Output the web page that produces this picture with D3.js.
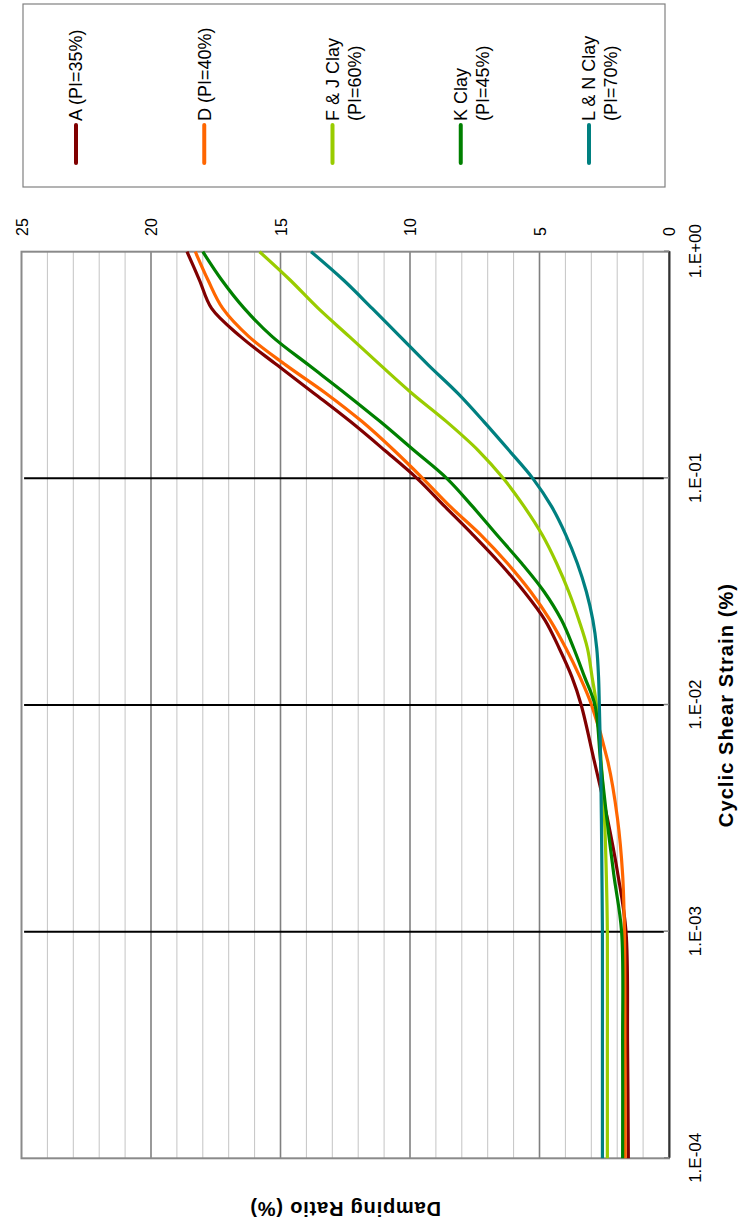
<!DOCTYPE html>
<html>
<head>
<meta charset="utf-8">
<script src="https://cdn.jsdelivr.net/npm/d3@7/dist/d3.min.js"></script>
<style>
  html, body { margin: 0; padding: 0; background: #ffffff; }
  svg { display: block; font-family: "Liberation Sans", Arial, sans-serif; }
</style>
</head>
<body>
<svg id="chart" width="739" height="1226"></svg>
<script>
// ---- data ----
const strain = [1e-4, 3.16e-4, 1e-3, 1.78e-3, 3.16e-3, 5.62e-3, 1e-2, 1.33e-2, 1.78e-2, 2.37e-2,
                3.16e-2, 4.22e-2, 5.62e-2, 7.5e-2, 0.1, 0.133, 0.178, 0.237, 0.316, 0.422, 0.562, 0.75, 1];
const dampA  = [1.57, 1.60, 1.66, 1.97, 2.38, 2.88, 3.39, 3.75, 4.24, 4.79, 5.59, 6.53, 7.56, 8.65, 9.73, 10.98, 12.30, 13.70, 15.13, 16.54, 17.66, 18.13, 18.61];
const dampD  = [1.69, 1.70, 1.72, 1.79, 1.99, 2.36, 2.99, 3.44, 3.98, 4.59, 5.34, 6.24, 7.26, 8.44, 9.51, 10.62, 11.85, 13.24, 14.79, 16.22, 17.23, 17.80, 18.29];
const dampFJ = [2.38, 2.38, 2.38, 2.42, 2.49, 2.62, 2.80, 2.97, 3.15, 3.48, 3.87, 4.34, 4.89, 5.59, 6.40, 7.37, 8.59, 9.92, 11.14, 12.34, 13.54, 14.63, 15.81];
const dampK  = [1.79, 1.79, 1.83, 2.13, 2.40, 2.64, 2.86, 3.26, 3.68, 4.15, 4.82, 5.69, 6.64, 7.58, 8.58, 9.85, 11.15, 12.50, 13.91, 15.32, 16.40, 17.27, 18.00];
const dampLN = [2.57, 2.57, 2.57, 2.59, 2.61, 2.64, 2.69, 2.72, 2.79, 2.94, 3.19, 3.54, 3.98, 4.53, 5.26, 6.18, 7.15, 8.15, 9.29, 10.38, 11.46, 12.57, 13.82];

const seriesNames  = [["A (PI=35%)"], ["D (PI=40%)"], ["F & J Clay", "(PI=60%)"], ["K Clay", "(PI=45%)"], ["L & N Clay", "(PI=70%)"]];
const seriesValues = [dampA, dampD, dampFJ, dampK, dampLN];
const seriesColors = ["#800000", "#FF6600", "#99CC00", "#008000", "#008080"];

const strainTicks = [1e-4, 1e-3, 1e-2, 1e-1, 1];
const strainTickLabels = ["1.E-04", "1.E-03", "1.E-02", "1.E-01", "1.E+00"];
const dampTicks = [0, 5, 10, 15, 20, 25];
const dampMinor = d3.range(0, 26, 1);

const xTitle = "Cyclic Shear Strain (%)";
const yTitle = "Damping Ratio (%)";

// ---- layout (chart is drawn in its own frame, then rotated -90deg) ----
const plot = { left: 67.7, right: 974.3, top: 21.5, bottom: 669 };

const svg = d3.select("#chart");
svg.append("rect").attr("width", 739).attr("height", 1226).attr("fill", "#ffffff");
const g = svg.append("g").attr("transform", `translate(0,${1226}) rotate(-90)`);

const x = d3.scaleLog().domain([1e-4, 1]).range([plot.left, plot.right]);
const y = d3.scaleLinear().domain([0, 25]).range([plot.bottom, plot.top]);

// plot background
g.append("rect")
  .attr("x", plot.left).attr("y", plot.top)
  .attr("width", plot.right - plot.left).attr("height", plot.bottom - plot.top)
  .attr("fill", "#ffffff");

// damping gridlines
g.append("g").selectAll("line").data(dampMinor.filter(v => v % 5 !== 0)).join("line")
  .attr("x1", plot.left).attr("x2", plot.right)
  .attr("y1", d => y(d)).attr("y2", d => y(d))
  .attr("stroke", "#c4c4c4").attr("stroke-width", 1);
g.append("g").selectAll("line").data(dampTicks.filter(v => v > 0 && v < 25)).join("line")
  .attr("x1", plot.left).attr("x2", plot.right)
  .attr("y1", d => y(d)).attr("y2", d => y(d))
  .attr("stroke", "#808080").attr("stroke-width", 1.6);

// decade lines (black)
g.append("g").selectAll("line").data(strainTicks.slice(1, 4)).join("line")
  .attr("x1", d => x(d)).attr("x2", d => x(d))
  .attr("y1", y(24.9)).attr("y2", y(0.2))
  .attr("stroke", "#000000").attr("stroke-width", 2);

// plot frame
g.append("rect")
  .attr("x", plot.left).attr("y", plot.top)
  .attr("width", plot.right - plot.left).attr("height", plot.bottom - plot.top)
  .attr("fill", "none").attr("stroke", "#8a8a8a").attr("stroke-width", 2);

// x axis (bottom in chart frame)
const xAxis = d3.axisBottom(x).tickValues(strainTicks)
  .tickFormat((d, i) => strainTickLabels[i]).tickSizeInner(-5).tickSizeOuter(0).tickPadding(18);
const xg = g.append("g").attr("transform", `translate(0,${plot.bottom})`).call(xAxis);
xg.select(".domain").attr("stroke", "#333333").attr("stroke-width", 2);
xg.selectAll(".tick line").attr("stroke", "#808080").attr("stroke-width", 1.5);
xg.selectAll(".tick text")
  .attr("font-size", 17).attr("fill", "#000")
  .attr("font-family", "Liberation Sans, Arial, sans-serif")
  .attr("dy", null).attr("y", 32);

// y axis labels (right side in chart frame)
const yAxis = d3.axisRight(y).tickValues(dampTicks).tickSize(0).tickPadding(0);
const yg = g.append("g").attr("transform", `translate(990,0)`).call(yAxis);
yg.select(".domain").remove();
yg.selectAll(".tick text")
  .attr("font-size", 16).attr("fill", "#000")
  .attr("font-family", "Liberation Sans, Arial, sans-serif")
  .attr("text-anchor", "start").attr("x", 0).attr("dy", "0.35em");

// series
const line = d3.line()
  .x((d, i) => x(strain[i]))
  .y(d => y(d))
  .curve(d3.curveCatmullRom.alpha(0.5));
g.append("g").selectAll("path").data(seriesValues).join("path")
  .attr("d", d => line(d))
  .attr("fill", "none")
  .attr("stroke", (d, i) => seriesColors[i])
  .attr("stroke-width", 3.2)
  .attr("stroke-linejoin", "round");

// axis titles
g.append("text")
  .attr("x", (plot.left + plot.right) / 2).attr("y", 733)
  .attr("text-anchor", "middle").attr("font-weight", "bold").attr("font-size", 20)
  .attr("letter-spacing", 1.1)
  .text(xTitle);
g.append("text")
  .attr("transform", `translate(24,${(plot.top + plot.bottom) / 2}) rotate(-90)`)
  .attr("text-anchor", "middle").attr("font-weight", "bold").attr("font-size", 20)
  .attr("letter-spacing", 0.8)
  .text(yTitle);

// legend
const legend = g.append("g");
legend.append("rect")
  .attr("x", 1039).attr("y", 23).attr("width", 183).attr("height", 642)
  .attr("fill", "#ffffff").attr("stroke", "#808080").attr("stroke-width", 1.2);
const legendY = d3.scalePoint().domain(d3.range(seriesNames.length)).range([76, 589]);
const items = legend.selectAll("g.item").data(seriesNames).join("g").attr("class", "item")
  .attr("transform", (d, i) => `translate(0,${legendY(i)})`);
items.append("line")
  .attr("x1", 1063).attr("x2", 1101).attr("y1", 0).attr("y2", 0)
  .attr("stroke", (d, i) => seriesColors[i]).attr("stroke-width", 4)
  .attr("stroke-linecap", "round");
items.each(function(d) {
  const t = d3.select(this).append("text")
    .attr("x", 1105).attr("y", 0).attr("font-size", 18).attr("fill", "#000");
  d.forEach((s, k) => {
    t.append("tspan").attr("x", 1105).attr("y", k * 22).attr("dy", "0.35em").text(s);
  });
});
</script>
</body>
</html>
